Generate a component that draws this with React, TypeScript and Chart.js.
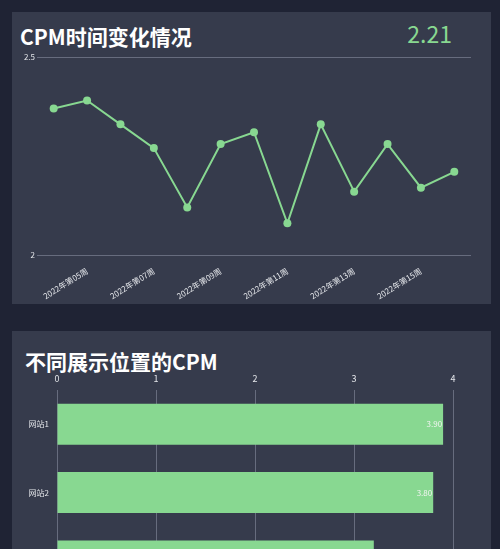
import { useEffect, useRef } from 'react';
import { Chart, registerables } from 'chart.js';

Chart.register(...registerables);

// chart data
const weekLabels = [
  '2022年第04周', '2022年第05周', '2022年第06周', '2022年第07周', '2022年第08周',
  '2022年第09周', '2022年第10周', '2022年第11周', '2022年第12周', '2022年第13周',
  '2022年第14周', '2022年第15周', '2022年第16周',
];
const weeklyCpm = [2.37, 2.39, 2.33, 2.27, 2.12, 2.28, 2.31, 2.08, 2.33, 2.16, 2.28, 2.17, 2.21];
const cpmAxisMin = 2;
const cpmAxisMax = 2.5;

const siteLabels = ['网站1', '网站2', '网站3'];
const siteCpm = [3.9, 3.8, 3.2];
const siteAxisMax = 4;

const GREEN = '#88d891';
const PAGE_BG = '#1f2334';
const PANEL_BG = '#363b4c';
const GRID = '#676c7e';
const TICK = '#e4e6ea';
const FONT = '"Noto Sans CJK SC", "Noto Sans", sans-serif';

// draws the value at the right end inside each bar
const barValuePlugin = {
  id: 'barValues',
  afterDatasetsDraw(chart: any) {
    const ctx = chart.ctx;
    const meta = chart.getDatasetMeta(0);
    ctx.save();
    ctx.font = `8px ${FONT}`;
    ctx.fillStyle = '#f2f4f2';
    ctx.textAlign = 'right';
    ctx.textBaseline = 'middle';
    meta.data.forEach((bar: any, i: number) => {
      ctx.fillText(Number(chart.data.datasets[0].data[i]).toFixed(2), bar.x - 1, bar.y);
    });
    ctx.restore();
  },
};

function CpmTrendChart() {
  const chartRef = useRef<HTMLCanvasElement>(null);

  useEffect(() => {
    if (!chartRef.current) return;
    const chart = new Chart(chartRef.current, {
      type: 'line',
      data: {
        labels: weekLabels,
        datasets: [
          {
            data: weeklyCpm,
            borderColor: GREEN,
            backgroundColor: GREEN,
            borderWidth: 2,
            pointRadius: 4,
            pointBackgroundColor: GREEN,
            pointBorderWidth: 0,
            tension: 0,
          },
        ],
      },
      options: {
        animation: false,
        responsive: false,
        maintainAspectRatio: false,
        layout: { padding: { top: 9, right: 20, left: 0, bottom: 0 } },
        plugins: { legend: { display: false }, tooltip: { enabled: false } },
        scales: {
          x: {
            offset: true,
            grid: { display: false },
            border: { display: false },
            afterFit: (scale: any) => {
              scale.height = 45;
            },
            ticks: {
              autoSkip: false,
              minRotation: 32,
              maxRotation: 32,
              padding: 3,
              color: TICK,
              font: { size: 8, family: FONT },
              callback: (_v: any, i: number) => (i % 2 === 1 ? weekLabels[i] : ''),
            },
          },
          y: {
            min: cpmAxisMin,
            max: cpmAxisMax,
            grid: { color: GRID, lineWidth: 1, drawTicks: false },
            border: { display: false },
            afterFit: (scale: any) => {
              scale.width = 25;
            },
            ticks: {
              stepSize: 0.5,
              padding: 2,
              color: TICK,
              font: { size: 8, family: FONT },
              callback: (v: any) => String(v),
            },
          },
        },
      },
    });
    return () => chart.destroy();
  }, []);

  return (
    <canvas
      ref={chartRef}
      width={479}
      height={252}
      style={{ position: 'absolute', left: 0, top: 36, width: 479, height: 252 }}
    />
  );
}

function SiteCpmChart() {
  const chartRef = useRef<HTMLCanvasElement>(null);

  useEffect(() => {
    if (!chartRef.current) return;
    const chart = new Chart(chartRef.current, {
      type: 'bar',
      data: {
        labels: siteLabels,
        datasets: [
          {
            data: siteCpm,
            backgroundColor: GREEN,
            borderWidth: 0,
            barPercentage: 0.6,
            categoryPercentage: 1,
          },
        ],
      },
      options: {
        animation: false,
        responsive: false,
        maintainAspectRatio: false,
        indexAxis: 'y',
        layout: { padding: { top: 0, right: 38, left: 0, bottom: 0 } },
        plugins: { legend: { display: false }, tooltip: { enabled: false } },
        scales: {
          x: {
            position: 'top',
            min: 0,
            max: siteAxisMax,
            grid: { color: GRID, lineWidth: 1, drawTicks: false },
            border: { display: false },
            afterFit: (scale: any) => {
              scale.height = 22;
            },
            ticks: {
              stepSize: 1,
              padding: 6,
              color: TICK,
              font: { size: 9, family: FONT },
            },
          },
          y: {
            grid: { display: false, drawTicks: false },
            border: { display: false },
            afterFit: (scale: any) => {
              scale.width = 45;
            },
            ticks: {
              padding: 8,
              color: TICK,
              font: { size: 8, family: FONT },
            },
          },
        },
      },
      plugins: [barValuePlugin],
    });
    return () => chart.destroy();
  }, []);

  return (
    <canvas
      ref={chartRef}
      width={479}
      height={240}
      style={{ position: 'absolute', left: 0, top: 37, width: 479, height: 240 }}
    />
  );
}

export default function App() {
  useEffect(() => {
    document.body.style.margin = '0';
    document.body.style.background = PAGE_BG;
  }, []);

  const latest = weeklyCpm[weeklyCpm.length - 1].toFixed(2);

  return (
    <div
      style={{
        position: 'relative',
        width: 500,
        height: 549,
        overflow: 'hidden',
        background: PAGE_BG,
        fontFamily: FONT,
      }}
    >
      <div
        style={{
          position: 'absolute',
          left: 12,
          top: 12,
          width: 479,
          height: 292,
          background: PANEL_BG,
        }}
      >
        <div
          style={{
            position: 'absolute',
            left: 8,
            top: 10,
            fontSize: 21,
            fontWeight: 700,
            color: '#ffffff',
            lineHeight: '28px',
          }}
        >
          CPM时间变化情况
        </div>
        <div
          style={{
            position: 'absolute',
            right: 39,
            top: 6,
            fontSize: 23,
            color: GREEN,
            lineHeight: '30px',
          }}
        >
          {latest}
        </div>
        <CpmTrendChart />
      </div>
      <div
        style={{
          position: 'absolute',
          left: 12,
          top: 331,
          width: 479,
          height: 300,
          background: PANEL_BG,
        }}
      >
        <div
          style={{
            position: 'absolute',
            left: 13,
            top: 15,
            fontSize: 21,
            fontWeight: 700,
            color: '#ffffff',
            lineHeight: '30px',
          }}
        >
          不同展示位置的CPM
        </div>
        <SiteCpmChart />
      </div>
    </div>
  );
}
